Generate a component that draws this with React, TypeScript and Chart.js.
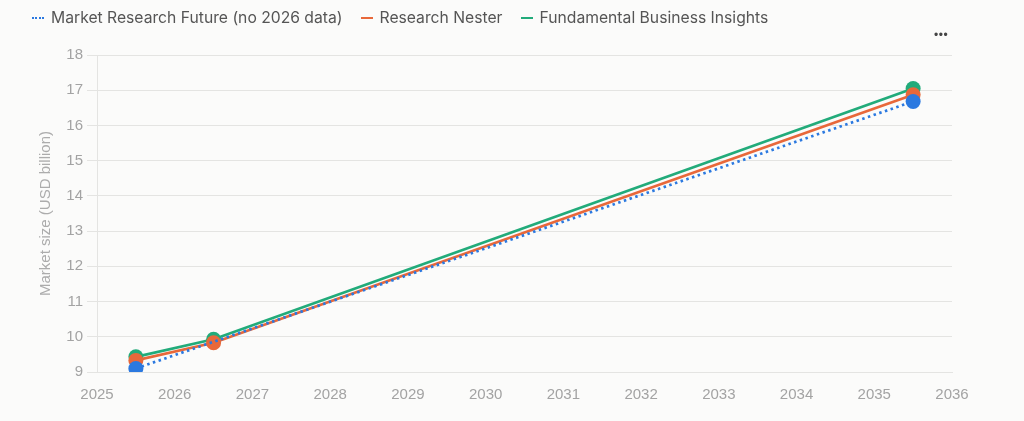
import React, { useEffect, useRef } from "react";
import { Chart, registerables } from "chart.js";

Chart.register(...registerables);

// Data years (points are plotted at mid-year)
const YEARS = [2025, 2026, 2035];
const SERIES_NAMES = [
  "Market Research Future (no 2026 data)",
  "Research Nester",
  "Fundamental Business Insights",
];
const MRF_VALUES: (number | null)[] = [9.1, null, 16.68];
const RN_VALUES: (number | null)[] = [9.33, 9.83, 16.87];
const FBI_VALUES: (number | null)[] = [9.43, 9.93, 17.05];
const X_TICKS = [2025, 2026, 2027, 2028, 2029, 2030, 2031, 2032, 2033, 2034, 2035, 2036];
const Y_TICKS = [9, 10, 11, 12, 13, 14, 15, 16, 17, 18];
const Y_TITLE = "Market size (USD billion)";

const COLORS = ["#2b79e0", "#e8683a", "#22ab7a"];
const DASHES = [[2.5, 3.5], [], []];

const TICK_FONT = { family: "'Liberation Sans', Arial, sans-serif", size: 15 };
const GRID_COLOR = "#e4e4e2";

export default function App() {
  const canvasRef = useRef<HTMLCanvasElement | null>(null);

  useEffect(() => {
    document.body.style.margin = "0";
    document.body.style.background = "#fbfbfa";
    const canvas = canvasRef.current;
    if (!canvas) return;
    const seriesValues = [MRF_VALUES, RN_VALUES, FBI_VALUES];
    const datasets = seriesValues.map((vals, i) => ({
      label: SERIES_NAMES[i],
      data: YEARS.map((yr, j) => ({ x: yr + 0.5, y: vals[j] })),
      borderColor: COLORS[i],
      backgroundColor: COLORS[i],
      pointBackgroundColor: COLORS[i],
      pointBorderColor: COLORS[i],
      pointBorderWidth: 0,
      pointRadius: 7.5,
      pointHoverRadius: 7.5,
      borderWidth: 2.7,
      borderDash: DASHES[i],
      spanGaps: true,
      tension: 0,
    }));

    const chart = new Chart(canvas, {
      type: "line",
      data: { datasets: datasets as any },
      options: {
        animation: false,
        responsive: true,
        maintainAspectRatio: false,
        layout: { padding: { left: 0, right: 72, top: 55, bottom: 0 } },
        plugins: {
          legend: { display: false },
          tooltip: { enabled: false },
        },
        scales: {
          x: {
            type: "linear",
            min: X_TICKS[0],
            max: X_TICKS[X_TICKS.length - 1],
            afterBuildTicks: (s: any) => {
              s.ticks = X_TICKS.map((v) => ({ value: v }));
            },
            afterFit: (s: any) => {
              s.height = 49;
            },
            grid: { display: false, drawTicks: false },
            border: { display: true, color: GRID_COLOR, width: 1 },
            ticks: {
              padding: 14,
              color: "#a3a3a3",
              font: TICK_FONT,
              maxRotation: 0,
              autoSkip: false,
              callback: (v: any) => String(v),
            },
          },
          y: {
            type: "linear",
            min: Y_TICKS[0],
            max: Y_TICKS[Y_TICKS.length - 1],
            afterBuildTicks: (s: any) => {
              s.ticks = Y_TICKS.map((v) => ({ value: v }));
            },
            afterFit: (s: any) => {
              s.width = 97;
            },
            grid: { color: GRID_COLOR, lineWidth: 1, tickLength: 10, drawTicks: true },
            border: { display: true, color: GRID_COLOR, width: 1 },
            title: {
              display: true,
              text: Y_TITLE,
              color: "#acacac",
              font: TICK_FONT,
              padding: { top: 37, bottom: 0 },
            },
            ticks: {
              padding: 4,
              color: "#a3a3a3",
              font: TICK_FONT,
              autoSkip: false,
              callback: (v: any) => String(v),
            },
          },
        },
      },
    });
    return () => chart.destroy();
  }, []);

  return (
    <div style={{ position: "relative", width: 1024, height: 421, background: "#fbfbfa" }}>
      <canvas ref={canvasRef} style={{ position: "absolute", left: 0, top: 0 }} />
      <div
        style={{
          position: "absolute",
          left: 32,
          top: 8,
          display: "flex",
          alignItems: "center",
          fontFamily: "Inter, 'Noto Sans', sans-serif",
          fontSize: 15.7,
          lineHeight: "19px",
          color: "#555555",
          whiteSpace: "nowrap",
        }}
      >
        {SERIES_NAMES.map((name, i) => (
          <div key={name} style={{ display: "flex", alignItems: "center", marginRight: 18 }}>
            <span
              style={{
                display: "inline-block",
                width: 12,
                height: 0,
                borderTop: `2.5px ${i === 0 ? "dotted" : "solid"} ${COLORS[i]}`,
                marginRight: 7,
              }}
            />
            <span>{name}</span>
          </div>
        ))}
      </div>
      <div
        style={{
          position: "absolute",
          left: 934,
          top: 28,
          fontFamily: "'Liberation Sans', Arial, sans-serif",
          fontSize: 12,
          letterSpacing: 0.5,
          color: "#444444",
        }}
      >
        •••
      </div>
    </div>
  );
}
